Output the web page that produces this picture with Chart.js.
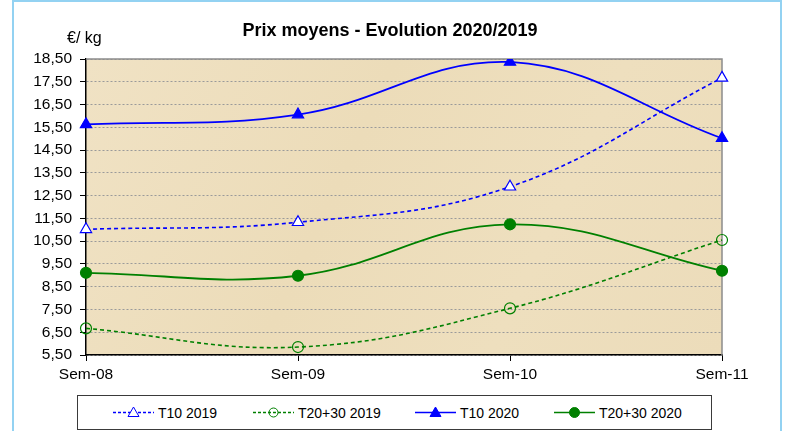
<!DOCTYPE html>
<html>
<head>
<meta charset="utf-8">
<title>Prix moyens - Evolution 2020/2019</title>
<script src="https://cdn.jsdelivr.net/npm/chart.js@4.4.1/dist/chart.umd.min.js"></script>
<style>
  html, body { margin: 0; padding: 0; background: #fff; }
  #wrap { position: relative; width: 791px; height: 431px; overflow: hidden; font-family: Arial, "Liberation Sans", sans-serif; }
  #frame { position: absolute; left: 12px; top: 0; width: 766px; height: 450px; border: 2px solid #93d2f2; pointer-events: none; }
  #legend { position: absolute; left: 77px; top: 395px; width: 633px; height: 33px; border: 1px solid #3a3a3a; background: #fff; }
  .item { position: absolute; top: 0; height: 33px; display: flex; align-items: center; font-size: 14px; color: #000; white-space: nowrap; }
  .item svg { margin-right: 4px; }
</style>
</head>
<body>
<div id="wrap">
  <canvas id="chart" width="791" height="431"></canvas>
  <div id="frame"></div>
  <div id="legend"></div>
</div>
<script>
// chart data
const chartTitle = 'Prix moyens - Evolution 2020/2019';
const unitLabel = '€/ kg';
const weeks = ['Sem-08', 'Sem-09', 'Sem-10', 'Sem-11'];
const t10_2019 = [11.02, 11.33, 12.89, 17.67];
const t2030_2019 = [6.67, 5.85, 7.55, 10.55];
const t10_2020 = [15.63, 16.06, 18.37, 15.02];
const t2030_2020 = [9.11, 8.98, 11.24, 9.2];
const yMin = 5.5;
const yMax = 18.5;
const yStep = 1;

const BLUE = '#0000ff';
const GREEN = '#008000';
const FONT = 'Arial, "Liberation Sans", sans-serif';

function makeSeries(label, data, color, dashed, marker, filled) {
    return {
        label,
        data,
        borderColor: color,
        borderWidth: dashed ? 1.6 : 1.8,
        borderDash: dashed ? [4, 3] : [],
        pointStyle: marker,
        pointRadius: marker === 'triangle' ? 6.5 : 5.5,
        pointBackgroundColor: filled ? color : (marker === 'triangle' ? '#ffffff' : 'rgba(0,0,0,0)'),
        pointBorderColor: color,
        pointBorderWidth: 1.2,
        tension: 0.4,
        fill: false,
        // kept for the legend icons
        _dashed: dashed,
        _filled: filled
    };
}

const datasets = [
    makeSeries('T10 2019', t10_2019, BLUE, true, 'triangle', false),
    makeSeries('T20+30 2019', t2030_2019, GREEN, true, 'circle', false),
    makeSeries('T10 2020', t10_2020, BLUE, false, 'triangle', true),
    makeSeries('T20+30 2020', t2030_2020, GREEN, false, 'circle', true)
];

// parchment background, plot frame, title and unit
const decorations = {
    id: 'decorations',
    beforeDraw(chart) {
        const { ctx, chartArea: a } = chart;
        ctx.save();
        ctx.fillStyle = '#ffffff';
        ctx.fillRect(0, 0, chart.width, chart.height);
        const g = ctx.createLinearGradient(a.left, a.top, a.right, a.bottom);
        g.addColorStop(0, '#f0e2c4');
        g.addColorStop(0.4, '#ecdcb9');
        g.addColorStop(0.7, '#eedfbe');
        g.addColorStop(1, '#ecdcba');
        ctx.fillStyle = g;
        ctx.fillRect(a.left, a.top, a.right - a.left, a.bottom - a.top);
        ctx.restore();
    },
    beforeDatasetsDraw(chart) {
        const { ctx, chartArea: a } = chart;
        ctx.save();
        ctx.strokeStyle = '#8c8c8c';
        ctx.lineWidth = 1.5;
        ctx.beginPath();
        ctx.moveTo(a.left, a.top);
        ctx.lineTo(a.right, a.top);
        ctx.lineTo(a.right, a.bottom);
        ctx.stroke();
        ctx.restore();
    },
    afterDraw(chart) {
        const { ctx } = chart;
        ctx.save();
        ctx.fillStyle = '#000';
        ctx.font = 'bold 18px ' + FONT;
        ctx.textAlign = 'center';
        ctx.textBaseline = 'alphabetic';
        ctx.fillText(chartTitle, 390, 36);
        ctx.font = '16px ' + FONT;
        ctx.textAlign = 'left';
        ctx.fillText(unitLabel, 67, 43);
        ctx.restore();
    }
};

const ctx = document.getElementById('chart').getContext('2d');
const chart = new Chart(ctx, {
    type: 'line',
    data: {
        labels: weeks,
        datasets
    },
    options: {
        responsive: false,
        animation: false,
        layout: {
            padding: { left: 0, top: 59, right: 69, bottom: 31 }
        },
        plugins: {
            legend: { display: false },
            title: { display: false },
            tooltip: { enabled: false }
        },
        scales: {
            x: {
                offset: false,
                grid: {
                    display: true,
                    drawOnChartArea: false,
                    drawTicks: true,
                    tickLength: 6,
                    tickColor: '#000',
                    tickWidth: 1
                },
                border: { display: true, color: '#000', width: 1.5 },
                ticks: {
                    color: '#000',
                    font: { family: FONT, size: 15.5 },
                    padding: 4,
                    maxRotation: 0,
                    autoSkip: false
                },
                afterFit(scale) {
                    scale.height = 45;
                }
            },
            y: {
                min: yMin,
                max: yMax,
                grid: {
                    display: true,
                    color: '#9a9a9a',
                    lineWidth: 1,
                    drawTicks: true,
                    tickLength: 6,
                    tickColor: '#000',
                    tickWidth: 1
                },
                border: { display: true, color: '#000', width: 1.5, dash: [2, 2] },
                ticks: {
                    stepSize: yStep,
                    autoSkip: false,
                    color: '#000',
                    font: { family: FONT, size: 15.5 },
                    padding: 8,
                    callback: v => v.toFixed(2).replace('.', ',')
                },
                afterFit(scale) {
                    scale.width = 86;
                }
            }
        }
    },
    plugins: [decorations]
});

// html legend built from the chart's datasets
function legendIcon(ds) {
    const c = ds.borderColor;
    const dash = ds._dashed ? ' stroke-dasharray="3,2"' : '';
    const fill = ds._filled ? c : (ds.pointStyle === 'triangle' ? '#fff' : 'none');
    let mark;
    if (ds.pointStyle === 'triangle') {
        mark = `<polygon points="20.5,1 26,10.5 15,10.5" fill="${fill}" stroke="${c}" stroke-width="1"/>`;
    } else {
        mark = `<circle cx="20.5" cy="6.5" r="${ds._filled ? 5 : 4.5}" fill="${fill}" stroke="${c}" stroke-width="1"/>`;
    }
    return `<svg width="41" height="13" viewBox="0 0 41 13">` +
        `<line x1="0" y1="6.5" x2="41" y2="6.5" stroke="${c}" stroke-width="${ds._dashed ? 1.3 : 1.6}"${dash}/>` +
        mark + `</svg>`;
}

const legendLeft = [35, 175, 337, 476];
const legendBox = document.getElementById('legend');
chart.data.datasets.forEach((ds, i) => {
    const item = document.createElement('div');
    item.className = 'item';
    item.style.left = legendLeft[i] + 'px';
    item.innerHTML = legendIcon(ds) + '<span>' + ds.label + '</span>';
    legendBox.appendChild(item);
});
</script>
</body>
</html>
